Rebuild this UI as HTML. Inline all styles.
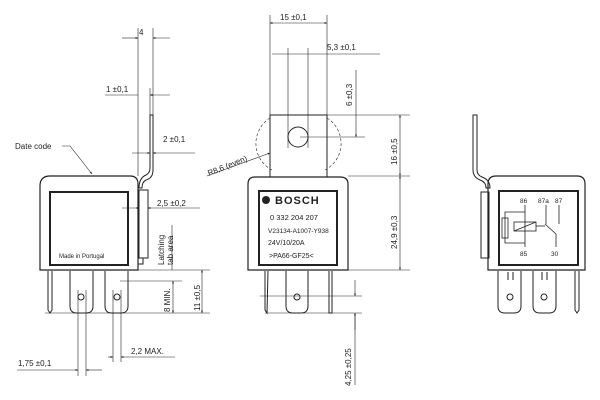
<!DOCTYPE html>
<html><head><meta charset="utf-8"><style>
html,body{margin:0;padding:0;background:#fff;}
svg{display:block;}
text{font-family:"Liberation Sans",sans-serif;fill:#222;}
</style></head><body>
<svg width="600" height="400" viewBox="0 0 600 400" xmlns="http://www.w3.org/2000/svg">
<defs>
<marker id="a" viewBox="0 0 10 10" refX="10" refY="5" markerWidth="6" markerHeight="4" orient="auto-start-reverse"><path d="M0,1 L10,5 L0,9 z" fill="#222"/></marker>
</defs>
<g stroke="#222" fill="none" stroke-width="1">
<!-- LEFT VIEW -->
<path d="M40,270 L40,186 Q40,176 50,176 L130,176 Q138,176 138,184 L138,270 Z" stroke-width="1.2"/>
<rect x="50" y="192" width="78" height="73" stroke-width="2"/>
<path d="M48,271 L48,310 L50,313 L52,310 L52,271"/>
<path d="M70,271 L70,306 Q70,313 77,313 L86,313 Q93,313 93,306 L93,271"/>
<path d="M105,271 L105,306 Q105,313 112,313 L121,313 Q128,313 128,306 L128,271"/>
<circle cx="81" cy="297" r="3"/><circle cx="117" cy="297" r="3"/>
<path d="M150,115 L153,115 L153,170 Q153,178 146,180 Q142,182 142,188 L139,188 Q139,178 146,175 Q150,173 150,168 Z"/>
<rect x="139" y="190" width="9" height="68"/>
<rect x="138" y="258" width="5" height="6"/>
<!-- left dims -->
<line x1="138" y1="28" x2="138" y2="176" stroke-width="0.6"/>
<line x1="153" y1="28" x2="153" y2="115" stroke-width="0.6"/>
<line x1="122" y1="38" x2="138" y2="38" stroke-width="0.6" marker-end="url(#a)"/>
<line x1="170" y1="38" x2="153" y2="38" stroke-width="0.6" marker-end="url(#a)"/>
<line x1="150" y1="88" x2="150" y2="115" stroke-width="0.6"/>
<line x1="105" y1="95" x2="138" y2="95" stroke-width="0.6"/>
<line x1="170" y1="95" x2="150" y2="95" stroke-width="0.6" marker-end="url(#a)"/>
<line x1="132" y1="153" x2="150" y2="153" stroke-width="0.6" marker-end="url(#a)"/>
<line x1="195" y1="153" x2="153" y2="153" stroke-width="0.6" marker-end="url(#a)"/>
<line x1="122" y1="208" x2="139" y2="208" stroke-width="0.6" marker-end="url(#a)"/>
<line x1="200" y1="208" x2="148" y2="208" stroke-width="0.6" marker-end="url(#a)"/>
<line x1="172" y1="225" x2="172" y2="270" stroke-width="0.6"/>
<line x1="128" y1="270" x2="210" y2="270" stroke-width="0.6"/>
<line x1="120" y1="281" x2="182" y2="281" stroke-width="0.6"/>
<line x1="45" y1="313" x2="210" y2="313" stroke-width="0.6"/>
<line x1="173" y1="281" x2="173" y2="313" stroke-width="0.6" marker-start="url(#a)" marker-end="url(#a)"/>
<line x1="202" y1="270" x2="202" y2="313" stroke-width="0.6" marker-start="url(#a)" marker-end="url(#a)"/>
<line x1="78" y1="290" x2="78" y2="376" stroke-width="0.6"/>
<line x1="86" y1="290" x2="86" y2="376" stroke-width="0.6"/>
<line x1="113" y1="290" x2="113" y2="362" stroke-width="0.6"/>
<line x1="121" y1="290" x2="121" y2="362" stroke-width="0.6"/>
<line x1="108" y1="357" x2="113" y2="357" stroke-width="0.6" marker-end="url(#a)"/>
<line x1="175" y1="357" x2="121" y2="357" stroke-width="0.6" marker-end="url(#a)"/>
<line x1="17" y1="370" x2="78" y2="370" stroke-width="0.6" marker-end="url(#a)"/>
<line x1="102" y1="370" x2="86" y2="370" stroke-width="0.6" marker-end="url(#a)"/>
<path d="M62,146 L70,146 L92,174" stroke-width="0.6" marker-end="url(#a)"/>
<!-- MIDDLE VIEW -->
<path d="M248,270 L248,184 Q248,177 255,177 L340,177 Q348,177 348,184 L348,270 Z" stroke-width="1.2"/>
<rect x="259" y="191" width="78" height="74" stroke-width="2"/>
<rect x="270" y="115" width="57" height="62"/>
<circle cx="298" cy="137" r="10"/>
<path d="M270,118 A30,30 0 0 0 272,170" stroke-dasharray="3,2" stroke-width="0.6"/>
<path d="M327,118 A30,30 0 0 1 325,170" stroke-dasharray="3,2" stroke-width="0.6"/>
<path d="M265,271 L265,310 L267,313 L268,271"/>
<path d="M329,271 L329,313 L332,313 L332,271"/>
<path d="M286,271 L286,306 Q286,313 293,313 L301,313 Q308,313 308,306 L308,271"/>
<circle cx="297" cy="297" r="3"/>
<line x1="270" y1="15" x2="270" y2="115" stroke-width="0.6"/>
<line x1="327" y1="15" x2="327" y2="115" stroke-width="0.6"/>
<line x1="270" y1="23" x2="327" y2="23" stroke-width="0.6" marker-start="url(#a)" marker-end="url(#a)"/>
<line x1="288" y1="48" x2="288" y2="148" stroke-width="0.6"/>
<line x1="308" y1="48" x2="308" y2="148" stroke-width="0.6"/>
<line x1="272" y1="54" x2="380" y2="54" stroke-width="0.6"/>
<line x1="327" y1="115" x2="410" y2="115" stroke-width="0.6"/>
<line x1="300" y1="137" x2="365" y2="137" stroke-width="0.6"/>
<line x1="356" y1="70" x2="356" y2="137" stroke-width="0.6" marker-end="url(#a)"/>
<line x1="348" y1="176" x2="410" y2="176" stroke-width="0.6"/>
<line x1="348" y1="270" x2="410" y2="270" stroke-width="0.6"/>
<line x1="400" y1="115" x2="400" y2="176" stroke-width="0.6" marker-start="url(#a)" marker-end="url(#a)"/>
<line x1="400" y1="176" x2="400" y2="270" stroke-width="0.6" marker-start="url(#a)" marker-end="url(#a)"/>
<line x1="260" y1="296" x2="362" y2="296" stroke-width="0.6"/>
<line x1="265" y1="313" x2="362" y2="313" stroke-width="0.6"/>
<line x1="355" y1="280" x2="355" y2="296" stroke-width="0.6" marker-end="url(#a)"/>
<line x1="355" y1="330" x2="355" y2="313" stroke-width="0.6" marker-end="url(#a)"/>
<line x1="355" y1="313" x2="355" y2="385" stroke-width="0.6"/>
<line x1="207" y1="176" x2="270" y2="153" stroke-width="0.6" marker-end="url(#a)"/>
<!-- RIGHT VIEW -->
<path d="M488,270 L488,184 Q488,176 496,176 L577,176 Q585,176 585,184 L585,270 Z" stroke-width="1.2"/>
<rect x="499" y="191" width="79" height="74" stroke-width="2"/>
<path d="M473,115 L477,115 L477,170 Q477,175 482,177 Q490,180 490,188 L486,188 Q486,182 480,180 Q473,177 473,170 Z"/>
<rect x="481" y="192" width="8" height="66"/>
<path d="M498,271 L498,306 Q498,313 505,313 L514,313 Q521,313 521,306 L521,271"/>
<path d="M533,271 L533,306 Q533,313 540,313 L549,313 Q556,313 556,306 L556,271"/>
<path d="M575,271 L575,310 L577,313 L579,310 L579,271"/>
<circle cx="510" cy="297" r="3"/><circle cx="544" cy="297" r="3"/>
<line x1="508" y1="272" x2="508" y2="280"/><line x1="513" y1="272" x2="513" y2="280"/>
<line x1="542" y1="272" x2="542" y2="280"/><line x1="547" y1="272" x2="547" y2="280"/>
<!-- schematic -->
<g stroke-width="0.8">
<line x1="525" y1="205" x2="525" y2="247"/>
<rect x="514" y="222" width="22" height="9"/>
<line x1="514" y1="231" x2="536" y2="222"/>
<path d="M525,212 L505,212 L505,243 L525,243"/>
<rect x="502" y="218" width="6" height="20"/>
<line x1="536" y1="226" x2="545" y2="226"/>
<line x1="546" y1="205" x2="546" y2="224"/>
<line x1="559" y1="205" x2="559" y2="224"/>
<path d="M545,224 L556,234 L556,247"/>
</g>
</g>
<g font-size="8">
<text x="139" y="35">4</text>
<text x="106" y="92">1 ±0,1</text>
<text x="163" y="142">2 ±0,1</text>
<text x="15" y="149">Date code</text>
<text x="157" y="206">2,5 ±0,2</text>
<text x="59" y="258" font-size="6">Made in Portugal</text>
<text transform="translate(164,265) rotate(-90)" font-size="8">Latching</text>
<text transform="translate(173,265) rotate(-90)" font-size="8">tab area</text>
<text transform="translate(170,312) rotate(-90)">8 MIN.</text>
<text transform="translate(200,311) rotate(-90)">11 ±0,5</text>
<text x="131" y="354">2,2 MAX.</text>
<text x="18" y="366">1,75 ±0,1</text>
<text x="280" y="20">15 ±0,1</text>
<text x="327" y="50">5,3 ±0,1</text>
<text transform="translate(352,106) rotate(-90)">6 ±0,3</text>
<text transform="translate(397,165) rotate(-90)">16 ±0,5</text>
<text transform="translate(397,249) rotate(-90)">24,9 ±0,3</text>
<text transform="translate(351,386) rotate(-90)">4,25 ±0,25</text>
<text transform="translate(209,176) rotate(-22)">R8,6 (even)</text>
<text x="275" y="204" font-size="11" font-weight="bold" letter-spacing="1">BOSCH</text>
<circle cx="266" cy="200" r="4" fill="#222"/>
<text x="270" y="220" font-size="7.5">0 332 204 207</text>
<text x="268" y="233" font-size="6.5">V23134-A1007-Y938</text>
<text x="268" y="245" font-size="7">24V/10/20A</text>
<text x="269" y="258" font-size="7">&gt;PA66-GF25&lt;</text>
<g font-size="6.5">
<text x="520" y="203">86</text><text x="538" y="203">87a</text><text x="555" y="203">87</text>
<text x="520" y="256">85</text><text x="551" y="256">30</text>
</g>
</g>
</svg>
</body></html>
